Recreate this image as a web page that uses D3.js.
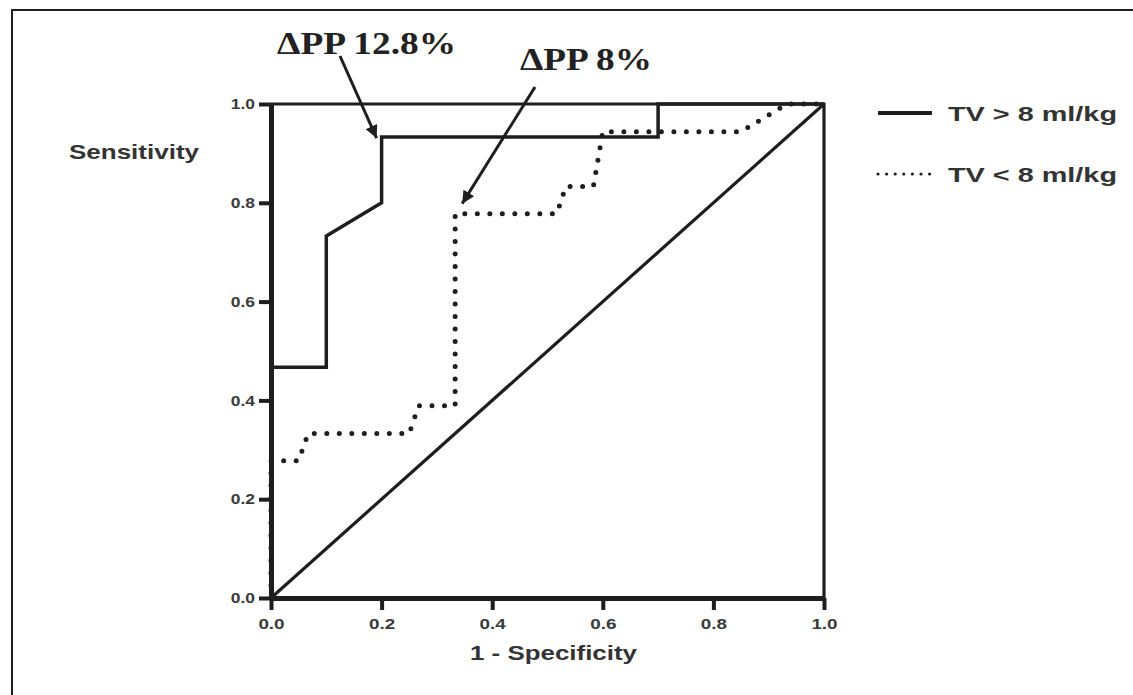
<!DOCTYPE html>
<html><head><meta charset="utf-8">
<script src="https://cdn.jsdelivr.net/npm/d3@7"></script>
<style>body{margin:0;background:#fff}svg{display:block}</style>
</head><body>
<svg id="c" width="1133" height="695"></svg>
<script>
// ---- data ----
const xTicks = [0, 0.2, 0.4, 0.6, 0.8, 1.0];
const yTicks = [0, 0.2, 0.4, 0.6, 0.8, 1.0];
const seriesNames = ["TV > 8 ml/kg", "TV < 8 ml/kg"];
const tvHighX = [0, 0, 0.1, 0.1, 0.2, 0.2, 0.7, 0.7, 1];
const tvHighY = [0, 0.467, 0.467, 0.733, 0.8, 0.933, 0.933, 1, 1];
const tvLowX = [0, 0, 0.05, 0.067, 0.25, 0.267, 0.333, 0.333, 0.517, 0.533, 0.583, 0.6, 0.85, 0.933, 1];
const tvLowY = [0, 0.278, 0.278, 0.333, 0.333, 0.389, 0.389, 0.778, 0.778, 0.833, 0.833, 0.944, 0.944, 1, 1];
const refX = [0, 1];
const refY = [0, 1];
const annLabels = ["ΔPP 12.8%", "ΔPP 8%"];
const annTargetX = [0.2, 0.333];
const annTargetY = [0.933, 0.778];

// ---- layout ----
const svg = d3.select("#c");
const x = d3.scaleLinear().domain([0, 1]).range([271, 824]);
const y = d3.scaleLinear().domain([0, 1]).range([598, 104]);
const ink = "#1e1e1e";
const sans = "'Liberation Sans', Arial, sans-serif";
const serif = "'Liberation Serif', 'Times New Roman', serif";

// outer frame
svg.append("path").attr("d", "M12,696 L12,10 L1134,10")
  .attr("fill", "none").attr("stroke", ink).attr("stroke-width", 2);

function stretch(sel, f) {
  sel.each(function () {
    const w = this.getComputedTextLength();
    d3.select(this).attr("textLength", w * f).attr("lengthAdjust", "spacingAndGlyphs");
  });
}

// box (top & right)
svg.append("path")
  .attr("d", `M${x(0)},${y(1)} L${x(1)},${y(1)} L${x(1)},${y(0)}`)
  .attr("fill", "none").attr("stroke", ink).attr("stroke-width", 3.2);

// diagonal reference
const line = d3.line().x(d => x(d[0])).y(d => y(d[1]));
svg.append("path").datum(refX.map((v, i) => [v, refY[i]]))
  .attr("d", line).attr("fill", "none").attr("stroke", ink).attr("stroke-width", 3.2);

// axes
const gx = svg.append("g").attr("transform", `translate(0,${y(0)})`)
  .call(d3.axisBottom(x).tickValues(xTicks).tickFormat(d3.format(".1f")).tickSize(12).tickSizeOuter(0).tickPadding(6));
const gy = svg.append("g").attr("transform", `translate(${x(0)},0)`)
  .call(d3.axisLeft(y).tickValues(yTicks).tickFormat(d3.format(".1f")).tickSize(12).tickSizeOuter(0).tickPadding(4));
[gx, gy].forEach(g => {
  g.select(".domain").attr("stroke", ink).attr("stroke-width", 5);
  g.selectAll(".tick line").attr("stroke", ink).attr("stroke-width", 4);
  g.selectAll(".tick text").attr("fill", "#3a3a3a").attr("font-family", sans)
    .attr("font-weight", "bold").attr("font-size", 14.5);
});
gx.selectAll(".tick text").attr("dy", "0.9em");
stretch(gx.selectAll(".tick text"), 1.3);
stretch(gy.selectAll(".tick text"), 1.2);

// curves
svg.append("path").datum(tvLowX.map((v, i) => [v, tvLowY[i]]))
  .attr("d", line).attr("fill", "none").attr("stroke", ink).attr("stroke-width", 5)
  .attr("stroke-linecap", "round").attr("stroke-dasharray", "0 12.5");
svg.append("path").datum(tvHighX.map((v, i) => [v, tvHighY[i]]))
  .attr("d", line).attr("fill", "none").attr("stroke", ink).attr("stroke-width", 3.5)
  .attr("stroke-linejoin", "miter");

// axis titles
svg.append("text").attr("x", 69).attr("y", 159).text("Sensitivity")
  .attr("font-family", sans).attr("font-weight", "bold").attr("font-size", 21).attr("fill", "#333")
  .attr("textLength", 130).attr("lengthAdjust", "spacingAndGlyphs");
svg.append("text").attr("x", 470).attr("y", 660).text("1 - Specificity")
  .attr("font-family", sans).attr("font-weight", "bold").attr("font-size", 21).attr("fill", "#333")
  .attr("textLength", 167).attr("lengthAdjust", "spacingAndGlyphs");

// legend
const legY = [113, 174];
svg.append("line").attr("x1", 878).attr("x2", 932).attr("y1", legY[0]).attr("y2", legY[0])
  .attr("stroke", ink).attr("stroke-width", 4);
svg.append("line").attr("x1", 878).attr("x2", 930).attr("y1", legY[1]).attr("y2", legY[1])
  .attr("stroke", ink).attr("stroke-width", 3.2).attr("stroke-linecap", "round").attr("stroke-dasharray", "0 8.6");
seriesNames.forEach((s, i) => {
  svg.append("text").attr("x", 948).attr("y", legY[i] + 8).text(s)
    .attr("font-family", sans).attr("font-weight", "bold").attr("font-size", 21).attr("fill", "#333")
    .attr("textLength", 169).attr("lengthAdjust", "spacingAndGlyphs");
});

// annotations
const defs = svg.append("defs");
defs.append("marker").attr("id", "ah").attr("viewBox", "0 0 10 10").attr("refX", 10).attr("refY", 5)
  .attr("markerWidth", 5).attr("markerHeight", 4.2).attr("orient", "auto").attr("markerUnits", "strokeWidth")
  .append("path").attr("d", "M0,0 L10,5 L0,10 Z").attr("fill", ink);
const annText = [[277, 54], [520, 70]];
const annStart = [[340, 56], [535, 87]];
const annOff = [[-5, 1], [7, -10]];
const annSize = [32, 31];
const annW = [179, 132];
annLabels.forEach((lab, i) => {
  svg.append("text").attr("x", annText[i][0]).attr("y", annText[i][1]).text(lab)
    .attr("font-family", serif).attr("font-weight", "bold").attr("font-size", annSize[i]).attr("fill", "#222")
    .attr("textLength", annW[i]).attr("lengthAdjust", "spacingAndGlyphs");
  svg.append("line").attr("x1", annStart[i][0]).attr("y1", annStart[i][1])
    .attr("x2", x(annTargetX[i]) + annOff[i][0]).attr("y2", y(annTargetY[i]) + annOff[i][1])
    .attr("stroke", ink).attr("stroke-width", 3).attr("marker-end", "url(#ah)");
});
</script>
</body></html>
